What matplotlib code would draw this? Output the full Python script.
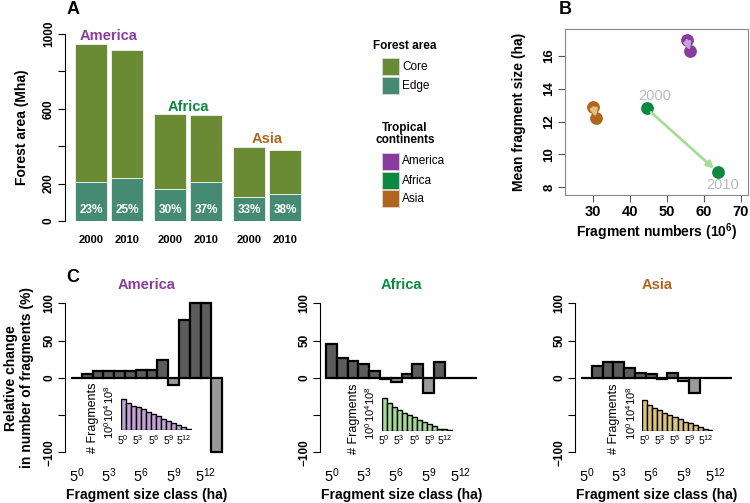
import matplotlib
matplotlib.use("Agg")
import matplotlib.pyplot as plt
from matplotlib.patches import Rectangle
import numpy as np

plt.rcParams['font.family'] = ['Liberation Sans', 'DejaVu Sans']
plt.rcParams['mathtext.fontset'] = 'custom'
plt.rcParams['mathtext.rm'] = 'Liberation Sans'
plt.rcParams['mathtext.it'] = 'Liberation Sans:italic'
plt.rcParams['mathtext.bf'] = 'Liberation Sans:bold'

# ---------------- data ----------------
continents = ["America", "Africa", "Asia"]
years = ["2000", "2010"]
# Panel A: forest area (Mha)
area_total_2000 = [947, 572, 396]
area_total_2010 = [915, 567, 380]
area_edge_2000 = [209, 171, 128]
area_edge_2010 = [230, 209, 144]
edge_share_2000 = [23, 30, 33]
edge_share_2010 = [25, 37, 38]
# Panel B: fragment numbers (10^6) and mean fragment size (ha)
frag_num_2000 = [55.3, 44.5, 30.0]
frag_num_2010 = [56.2, 63.9, 30.7]
mean_size_2000 = [17.0, 12.8, 12.9]
mean_size_2010 = [16.3, 8.9, 12.24]
# Panel C: relative change per size class (5^0 .. 5^13)
size_class_exp = list(range(14))
size_tick_exp = [0, 3, 6, 9, 12]
rel_change_america = [0, 5.4, 8.5, 9.4, 9.4, 9.4, 10.3, 10.3, 23.7, -9, 78, 100, 100, -100]
rel_change_africa = [45, 26, 22.4, 18.8, 9, -1, -6.3, 5.4, 18.3, -20, 21.5, 0, 0, 0]
rel_change_asia = [0, 16, 20.6, 20.6, 12.5, 5.8, 4.5, -1, 7, -4, -20, 0, 0, 0]
# insets: log10 of number of fragments per class
log_count_america = [7.0, 6.1, 5.6, 5.2, 4.7, 4.1, 3.7, 3.2, 2.6, 2.1, 1.5, 1.1, 0.6, 0.3]
log_count_africa = [7.4, 6.3, 5.5, 4.7, 4.1, 3.6, 3.1, 2.4, 1.9, 1.5, 1.0, 0.5, 0.3, 0.15]
log_count_asia = [7.0, 5.9, 5.3, 4.7, 4.1, 3.6, 3.1, 2.6, 2.1, 1.7, 1.2, 0.8, 0.5, 0.15]
inset_ticks = [0, 4, 8]

# ---------------- style ----------------
CORE = "#6a8a33"
EDGE = "#458b74"
CONT_COL = ["#8a3c9e", "#0b8a3f", "#b0661f"]
ARROW_COL = ["#c8a2da", "#a5dc98", "#e6c27e"]
INSET_COL = ["#c3a3d6", "#a6d898", "#dcc37c"]
POS_GREY = "#5c5c5c"
NEG_GREY = "#9a9a9a"

W, H = 750, 503
fig = plt.figure(figsize=(W / 100, H / 100), dpi=100)


def add_ax(x0, y0, x1, y1, **kw):
    return fig.add_axes([x0 / W, 1 - y1 / H, (x1 - x0) / W, (y1 - y0) / H], **kw)


def ftext(x, y, s, **kw):
    return fig.text(x / W, 1 - y / H, s, **kw)


def place_ylabel(ax, xpix, x0, x1):
    ax.yaxis.set_label_coords((xpix - x0) / (x1 - x0), 0.5)
    ax.yaxis.label.set_va("center")
    ax.yaxis.label.set_ha("center")


def place_xlabel(ax, ypix, y0, y1):
    ax.xaxis.set_label_coords(0.5, (y1 - ypix) / (y1 - y0))
    ax.xaxis.label.set_va("center")
    ax.xaxis.label.set_ha("center")


# ---------------- Panel A ----------------
A_box = (64.5, 34, 305, 221)
axA = add_ax(*A_box)
axA.set_xlim(-0.33, 7.19)
axA.set_ylim(0, 1000)
for g, cont in enumerate(continents):
    tots = [area_total_2000[g], area_total_2010[g]]
    edges = [area_edge_2000[g], area_edge_2010[g]]
    shares = [edge_share_2000[g], edge_share_2010[g]]
    xs = [g * 2.47 + i * 1.125 + 0.5 for i in range(2)]
    cores = [t - e for t, e in zip(tots, edges)]
    axA.bar(xs, edges, width=1, color=EDGE, edgecolor="#e8efe8", lw=0.7)
    axA.bar(xs, cores, bottom=edges, width=1, color=CORE, edgecolor="#e8efe8", lw=0.7)
    for x, s, yr in zip(xs, shares, years):
        axA.text(x, 60, f"{s}%", color="white", fontsize=8.5, fontweight="bold",
                 ha="center", va="center")
        axA.text(x, -102, yr, fontsize=8, fontweight="bold", ha="center",
                 va="center", clip_on=False)
    axA.text(np.mean(xs), max(tots) + 40, cont, color=CONT_COL[g], fontsize=10.5,
             fontweight="bold", ha="center", va="center", clip_on=False)
for s in ["top", "right", "bottom"]:
    axA.spines[s].set_visible(False)
axA.spines["left"].set_bounds(0, 1000)
axA.set_xticks([])
axA.set_yticks([0, 200, 400, 600, 800, 1000])
axA.set_yticklabels(["0", "200", "", "600", "", "1000"])
axA.tick_params(axis="y", length=5, width=0.8, pad=2, labelsize=8.5, labelrotation=90)
for lab in axA.get_yticklabels():
    lab.set_fontweight("bold")
    lab.set_va("center")
axA.set_ylabel("Forest area (Mha)", fontsize=10, fontweight="bold")
place_ylabel(axA, 22, A_box[0], A_box[2])

# ---------------- legend (decoration) ----------------
axL = fig.add_axes([0, 0, 1, 1], zorder=-1)
axL.set_xlim(0, W)
axL.set_ylim(H, 0)
axL.axis("off")
axL.text(405, 46, "Forest area", fontsize=8.5, fontweight="bold", ha="center", va="center")
for y, c, lab in [(58, CORE, "Core"), (77, EDGE, "Edge")]:
    axL.add_patch(Rectangle((382, y), 17, 17, facecolor=c, edgecolor="#dddddd", lw=0.5))
    axL.text(402, y + 8.5, lab, fontsize=8.5, ha="left", va="center")
axL.text(405, 134, "Tropical\ncontinents", fontsize=8.5, fontweight="bold",
         ha="center", va="center", linespacing=1.05)
for k, (y, lab) in enumerate([(153, "America"), (172, "Africa"), (190, "Asia")]):
    axL.add_patch(Rectangle((382, y), 17, 17, facecolor=CONT_COL[k], edgecolor="#dddddd", lw=0.5))
    axL.text(402, y + 8.5, lab, fontsize=8.5, ha="left", va="center")

# ---------------- Panel B ----------------
B_box = (565, 29, 748.3, 195)
axB = add_ax(*B_box)
axB.set_xlim(22.3, 72.06)
axB.set_ylim(7.52, 17.65)
for k in range(3):
    x0, y0 = frag_num_2000[k], mean_size_2000[k]
    x1, y1 = frag_num_2010[k], mean_size_2010[k]
    axB.scatter([x0, x1], [y0, y1], s=85, color=CONT_COL[k], zorder=3, lw=0)
    sx, sy = x0 + 0.06 * (x1 - x0), y0 + 0.06 * (y1 - y0)
    ex, ey = x0 + 0.94 * (x1 - x0), y0 + 0.94 * (y1 - y0)
    axB.annotate("", xy=(ex, ey), xytext=(sx, sy), zorder=4,
                 arrowprops=dict(arrowstyle="-|>", color=ARROW_COL[k], lw=2,
                                 mutation_scale=10, shrinkA=0, shrinkB=0))
axB.annotate("2000", (frag_num_2000[1], mean_size_2000[1]), xytext=(6, 9),
             textcoords="offset points", color="#bbbbbb", fontsize=10.5,
             ha="center", va="center")
axB.annotate("2010", (frag_num_2010[1], mean_size_2010[1]), xytext=(3, -9),
             textcoords="offset points", color="#bbbbbb", fontsize=10.5,
             ha="center", va="center")
for s in axB.spines.values():
    s.set_color("#888888")
axB.set_xticks([30, 40, 50, 60, 70])
axB.set_yticks([8, 10, 12, 14, 16])
axB.tick_params(axis="x", length=5, width=0.8, pad=2, labelsize=10.5, color="#555555")
axB.tick_params(axis="y", length=5, width=0.8, pad=2, labelsize=9.5, labelrotation=90,
                color="#555555")
for lab in axB.get_xticklabels() + axB.get_yticklabels():
    lab.set_fontweight("bold")
for lab in axB.get_yticklabels():
    lab.set_va("center")
axB.set_xlabel(r"Fragment numbers $\mathregular{(10^{6})}$", fontsize=10, fontweight="bold")
place_xlabel(axB, 232, B_box[1], B_box[3])
axB.set_ylabel("Mean fragment size (ha)", fontsize=10, fontweight="bold")
place_ylabel(axB, 519, B_box[0], B_box[2])

# ---------------- Panel C ----------------
panels = [
    ("America", rel_change_america, log_count_america, 65, (120.5, 191.5, 430)),
    ("Africa", rel_change_africa, log_count_africa, 320, (381.5, 452.5, 430.7)),
    ("Asia", rel_change_asia, log_count_asia, 575, (642, 713, 430.7)),
]
for k, (name, rel, logc, xl, (ix0, ix1, ib)) in enumerate(panels):
    C_box = (xl, 297.3, xl + 163.3, 458.3)
    ax = add_ax(*C_box)
    ax.set_xlim(-0.56, 14.56)
    ax.set_ylim(-108, 108)
    xs = np.array(size_class_exp) + 0.5
    cols = [POS_GREY if v >= 0 else NEG_GREY for v in rel]
    ax.bar(xs, rel, width=1, color=cols, edgecolor="black", lw=1.6, zorder=2)
    for s in ["top", "right", "bottom"]:
        ax.spines[s].set_visible(False)
    ax.spines["left"].set_bounds(-100, 100)
    ax.set_yticks([-100, -50, 0, 50, 100])
    ax.set_yticklabels(["\u2212100", "", "0", "50", "100"])
    ax.tick_params(axis="y", length=5, width=0.8, pad=2, labelsize=8.5, labelrotation=90)
    for lab in ax.get_yticklabels():
        lab.set_fontweight("bold")
        lab.set_va("center")
    ax.set_xticks(np.array(size_tick_exp) + 0.5)
    ax.set_xticklabels([r"$\mathregular{5^{%d}}$" % e for e in size_tick_exp])
    ax.tick_params(axis="x", length=0, pad=6, labelsize=10.5)
    ax.set_title(name, color=CONT_COL[k], fontsize=10.5, fontweight="bold", pad=6)
    ax.set_xlabel("Fragment size class (ha)", fontsize=10, fontweight="bold")
    place_xlabel(ax, 495, C_box[1], C_box[3])
    if k == 0:
        ax.set_ylabel("Relative change\nin number of fragments (%)", fontsize=10,
                      fontweight="bold", linespacing=1.15)
        place_ylabel(ax, 19, C_box[0], C_box[2])

    # inset
    axi = add_ax(ix0, ib - 35, ix1, ib)
    axi.patch.set_alpha(0)
    axi.set_xlim(0, 14)
    axi.set_ylim(0, 8)
    axi.bar(np.array(size_class_exp) + 0.5, logc, width=1, color=INSET_COL[k],
            edgecolor="black", lw=1.0)
    for s in axi.spines.values():
        s.set_visible(False)
    axi.set_yticks(inset_ticks)
    axi.set_yticklabels([r"$\mathregular{10^{%d}}$" % t for t in inset_ticks])
    axi.tick_params(axis="y", length=0, pad=3, labelsize=8, labelrotation=90)
    for lab in axi.get_yticklabels():
        lab.set_va("center")
    axi.set_xticks(np.array(size_tick_exp) + 0.5)
    axi.set_xticklabels([r"$\mathregular{5^{%d}}$" % e for e in size_tick_exp])
    axi.tick_params(axis="x", length=0, pad=2, labelsize=7.5)
    axi.set_ylabel("# Fragments", fontsize=9)
    axi.yaxis.set_label_coords(-28 / (ix1 - ix0), 0.35)
    axi.yaxis.label.set_va("center")

# panel letters
ftext(73, 10, "A", fontsize=13, fontweight="bold", ha="center", va="center")
ftext(565, 10, "B", fontsize=13, fontweight="bold", ha="center", va="center")
ftext(73, 277, "C", fontsize=13, fontweight="bold", ha="center", va="center")

fig.savefig("out.png", dpi=100)
